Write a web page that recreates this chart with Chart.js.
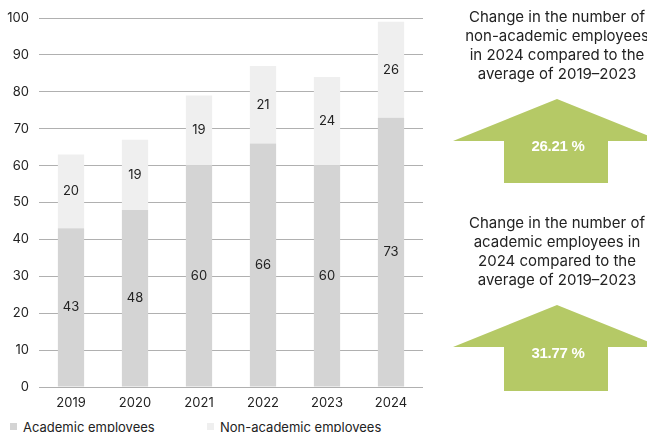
<!DOCTYPE html>
<html>
<head>
<meta charset="utf-8">
<script src="https://cdn.jsdelivr.net/npm/chart.js@4.4.1/dist/chart.umd.min.js"></script>
<style>
  html, body { margin: 0; padding: 0; background: #fff; }
  body { width: 647px; height: 432px; overflow: hidden; position: relative; font-family: Inter, 'Open Sans', sans-serif; color: #222; }
  #chart-box { position: absolute; left: 0; top: 0; width: 440px; height: 412px; }
  .legend { position: absolute; top: 419px; font-size: 13px; line-height: 16px; white-space: nowrap; }
  .legend .sw { display: inline-block; width: 7px; height: 7px; margin-right: 6px; vertical-align: 2px; }
  .note { position: absolute; left: 437px; width: 240px; text-align: center; font-size: 15px; line-height: 19px; white-space: nowrap; }
  .pct { position: absolute; width: 120px; left: 498px; text-align: center; color: #fff; font-family: 'Liberation Sans', Arial, sans-serif; font-weight: bold; font-size: 15px; letter-spacing: -0.3px; }
  svg.arrows { position: absolute; left: 0; top: 0; }
</style>
</head>
<body>
<div id="chart-box"><canvas id="chart"></canvas></div>

<div class="legend" style="left:10px"><span class="sw" style="background:#d4d4d4"></span>Academic employees</div>
<div class="legend" style="left:207px"><span class="sw" style="background:#efefef"></span>Non-academic employees</div>

<svg class="arrows" width="647" height="432">
  <polygon points="557,99 661,141 608,141 608,183 504,183 504,141 453,141" fill="#b5c966"/>
  <polygon points="557,305 661,347 608,347 608,391 504,391 504,347 453,347" fill="#b5c966"/>
</svg>

<div class="note" style="top:7px">Change in the number of<br>non-academic employees<br>in 2024 compared to the<br>average of 2019–2023</div>
<div class="pct" style="top:137px">26.21 %</div>

<div class="note" style="top:213px">Change in the number of<br>academic employees in<br>2024 compared to the<br>average of 2019–2023</div>
<div class="pct" style="top:344px">31.77 %</div>

<script>
  // --- data ---------------------------------------------------------------
  const years = ['2019', '2020', '2021', '2022', '2023', '2024'];
  const academic = [43, 48, 60, 66, 60, 73];
  const nonAcademic = [20, 19, 19, 21, 24, 26];
  const yTicks = [0, 10, 20, 30, 40, 50, 60, 70, 80, 90, 100];

  const FONT = "Inter, 'Open Sans', sans-serif";

  // value labels in the middle of every segment
  const segLabels = {
    id: 'segLabels',
    afterDatasetsDraw(chart) {
      const ctx = chart.ctx;
      ctx.save();
      ctx.font = '13px ' + FONT;
      ctx.fillStyle = '#222';
      ctx.textAlign = 'center';
      ctx.textBaseline = 'middle';
      chart.data.datasets.forEach(function (ds, di) {
        chart.getDatasetMeta(di).data.forEach(function (bar, i) {
          const p = bar.getProps(['x', 'y', 'base'], true);
          ctx.fillText(String(ds.data[i]), p.x, (p.y + p.base) / 2);
        });
      });
      ctx.restore();
    }
  };

  new Chart(document.getElementById('chart'), {
    type: 'bar',
    data: {
      labels: years,
      datasets: [
        { label: 'Academic employees', data: academic, backgroundColor: '#d4d4d4', barPercentage: 0.41, categoryPercentage: 1 },
        { label: 'Non-academic employees', data: nonAcademic, backgroundColor: '#efefef', barPercentage: 0.41, categoryPercentage: 1 }
      ]
    },
    options: {
      responsive: true, maintainAspectRatio: false, animation: false,
      layout: { padding: { top: 18, right: 17, left: 0, bottom: 0 } },
      plugins: { legend: { display: false }, tooltip: { enabled: false } },
      scales: {
        x: {
          stacked: true,
          grid: { display: false },
          border: { display: false },
          ticks: { color: '#222', font: { family: FONT, size: 13 }, padding: 0, maxRotation: 0 },
          afterFit: function (s) { s.height = 25; }
        },
        y: {
          stacked: true, min: 0, max: 100,
          afterBuildTicks: function (s) { s.ticks = yTicks.map(function (v) { return { value: v }; }); },
          grid: { color: '#b0b0b0', lineWidth: 1, drawTicks: false },
          border: { display: false },
          ticks: { color: '#222', font: { family: FONT, size: 13 }, padding: 10 },
          afterFit: function (s) { s.width = 39; }
        }
      }
    },
    plugins: [segLabels]
  });
</script>
</body>
</html>
